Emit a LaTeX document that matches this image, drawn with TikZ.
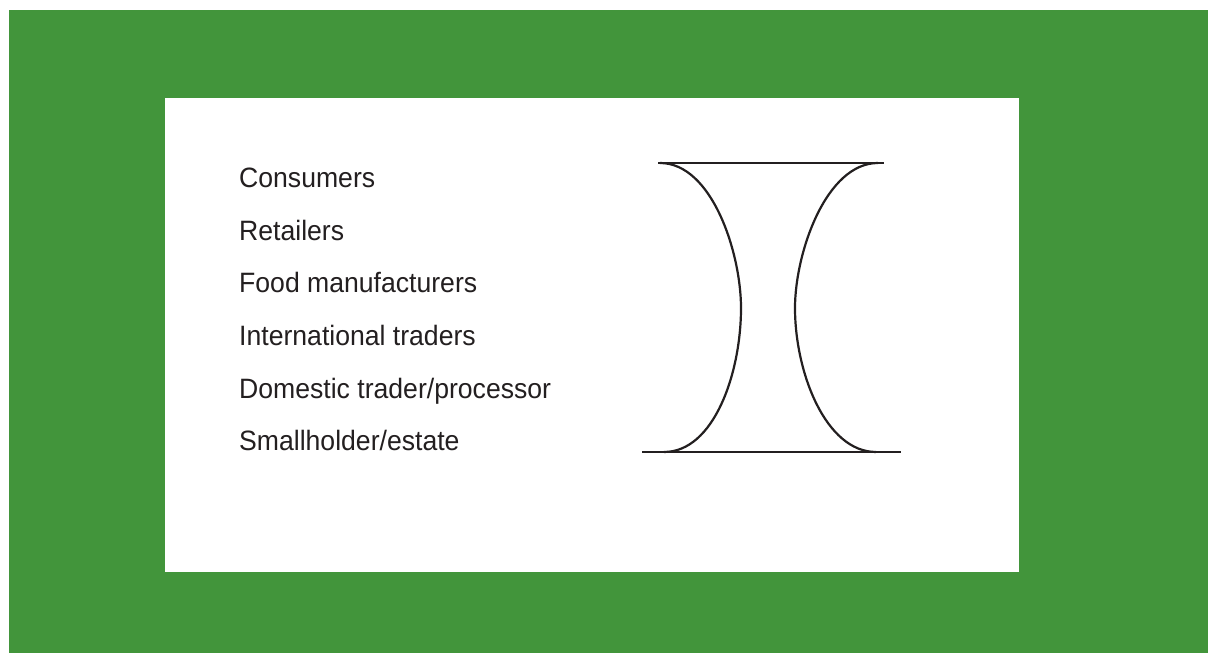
\documentclass[tikz,border=0pt]{standalone}
\usepackage{fontspec}
\setmainfont{Liberation Sans}[FakeStretch=0.95]
\definecolor{bggreen}{RGB}{66,149,59}
\definecolor{ink}{RGB}{35,31,32}
\begin{document}
\begin{tikzpicture}[x=1pt,y=1pt,
  lbl/.style={anchor=base west,inner sep=0pt,font=\fontsize{28}{30}\selectfont,text=ink},
  curve/.style={line width=2.2pt,draw=ink}]
\useasboundingbox (0,0) rectangle (1208,653);
\fill[white] (0,0) rectangle (1208,653);
\fill[bggreen] (9,0) rectangle (1208,643);
\fill[white] (165,81) rectangle (1019,555);
\node[lbl] (c) at (239,465) {Consumers};
\node[lbl] (r) at (239,412.5) {Retailers};
\node[lbl] (f) at (239,360) {Food manufacturers};
\node[lbl] (i) at (239,307) {International traders};
\node[lbl] (d) at (239,254.5) {Domestic trader/processor};
\node[lbl] (s) at (239,202) {Smallholder/estate};
\coordinate (tl) at (658,490);
\coordinate (tr) at (884,490);
\coordinate (bl) at (642,201);
\coordinate (br) at (901,201);
\draw[curve] (tl) -- (tr);
\draw[curve] (bl) -- (br);
\draw[curve] (660,490) .. controls (712,490) and (741,400) .. (741,345) .. controls (741,280) and (714,201) .. (664,201);
\draw[curve] (878,490) .. controls (826,490) and (795,400) .. (795,345) .. controls (795,280) and (826,201) .. (876,201);
\end{tikzpicture}
\end{document}
